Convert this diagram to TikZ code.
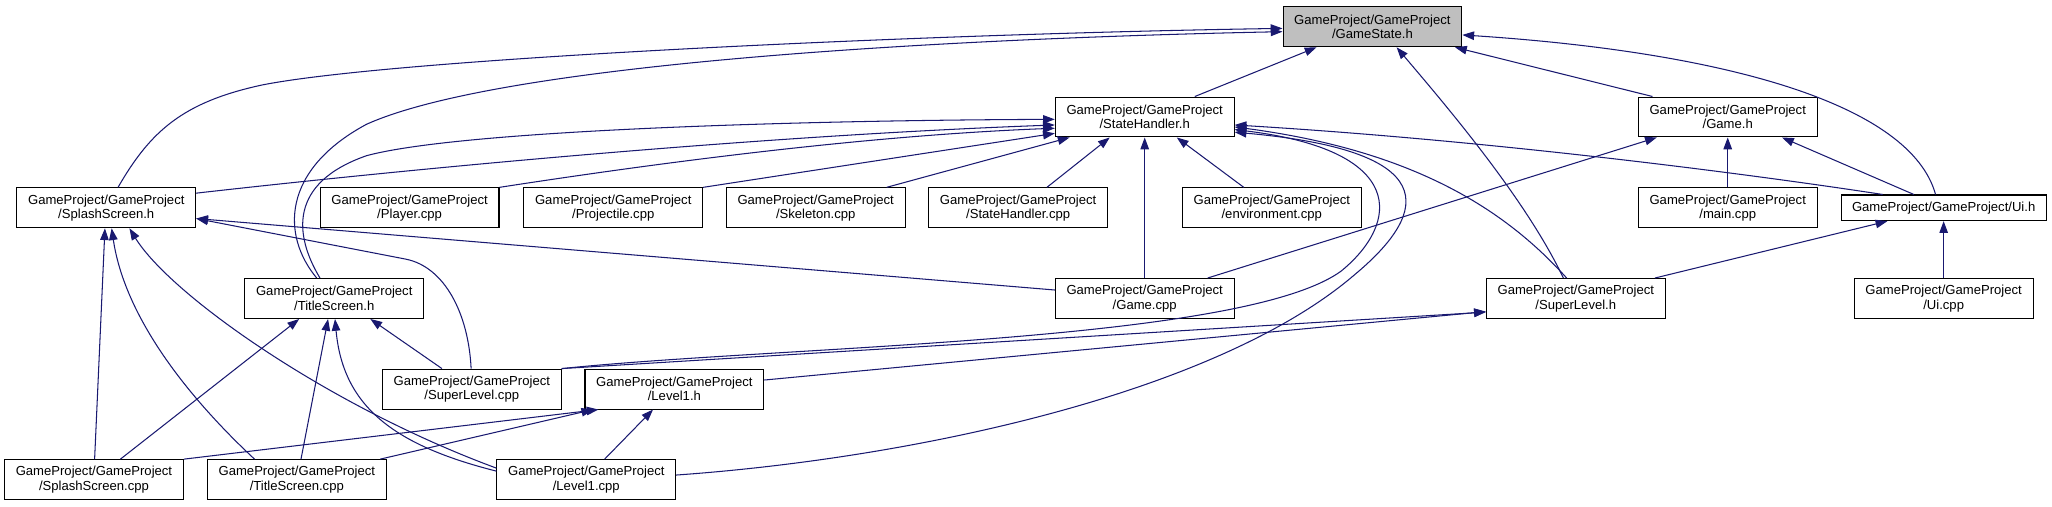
\documentclass[tikz,border=0pt]{standalone}
\usepackage{fontspec}
\setmainfont{Liberation Sans}
\usetikzlibrary{arrows.meta}
\definecolor{edgeblue}{HTML}{191970}
\definecolor{gsgrey}{HTML}{BFBFBF}
\begin{document}
\begin{tikzpicture}[x=1pt,y=-1pt,
  box/.style={draw=black, line width=0.8pt, fill=white, minimum width=136.6pt, minimum height=30.5pt, inner sep=0pt, align=center, font=\fontsize{10}{11}\selectfont},
  dep/.style={draw=edgeblue, line width=0.8pt, -{Triangle[length=9pt,width=6.5pt]}}]
\useasboundingbox (0,0) rectangle (1568,387);
% nodes
\node[box, fill=gsgrey] (gs) at (1048.7,20.5) {GameProject/GameProject\\/GameState.h};
\node[box] (sh) at (874.7,89.4) {GameProject/GameProject\\/StateHandler.h};
\node[box] (gh) at (1320.2,89.4) {GameProject/GameProject\\/Game.h};
\node[box] (ssh) at (81.2,158.8) {GameProject/GameProject\\/SplashScreen.h};
\node[box] (pl) at (313,158.8) {GameProject/GameProject\\/Player.cpp};
\node[box] (pr) at (468.6,158.8) {GameProject/GameProject\\/Projectile.cpp};
\node[box] (sk) at (623.3,158.8) {GameProject/GameProject\\/Skeleton.cpp};
\node[box] (shc) at (778,158.8) {GameProject/GameProject\\/StateHandler.cpp};
\node[box] (env) at (971.8,158.8) {GameProject/GameProject\\/environment.cpp};
\node[box] (mc) at (1320.2,158.8) {GameProject/GameProject\\/main.cpp};
\node[box, minimum width=156.7pt, minimum height=19.6pt] (uih) at (1485.2,158.8) {GameProject/GameProject/Ui.h};
\node[box] (tsh) at (255.4,228.1) {GameProject/GameProject\\/TitleScreen.h};
\node[box] (gc) at (874.7,228.1) {GameProject/GameProject\\/Game.cpp};
\node[box] (slh) at (1204.1,228.1) {GameProject/GameProject\\/SuperLevel.h};
\node[box] (uic) at (1485.2,228.1) {GameProject/GameProject\\/Ui.cpp};
\node[box] (slc) at (360.5,297.3) {GameProject/GameProject\\/SuperLevel.cpp};
\node[box] (l1h) at (515.3,297.3) {GameProject/GameProject\\/Level1.h};
\node[box] (ssc) at (71.8,366.5) {GameProject/GameProject\\/SplashScreen.cpp};
\node[box] (tsc) at (226.8,366.5) {GameProject/GameProject\\/TitleScreen.cpp};
\node[box] (l1c) at (448,366.5) {GameProject/GameProject\\/Level1.cpp};
% edges into GameState.h
\draw[dep] ([xshift=38.3pt]sh.north) -- ([xshift=-42.7pt]gs.south);
\draw[dep] ([xshift=-57.5pt]gh.north) -- ([xshift=63.1pt]gs.south);
\draw[dep] ([xshift=9pt]ssh.north) .. controls (115,100) and (140,78) .. (200,65) .. controls (300,45) and (700,26) .. ([yshift=-1.2pt]gs.west);
\draw[dep] ([xshift=-13.4pt]tsh.north) .. controls (215,180) and (215,130) .. (280,95) .. controls (380,50) and (700,30) .. ([yshift=-3.7pt]gs.west);
\draw[dep] ([xshift=-9.5pt]slh.north) .. controls (1165,150) and (1100,75) .. ([xshift=18.5pt]gs.south);
\draw[dep] ([xshift=-6.2pt]uih.north) .. controls (1460,80) and (1320,40) .. ([yshift=-6.2pt]gs.east);
% edges into StateHandler.h
\draw[dep] ([yshift=11.2pt]ssh.east) .. controls (350,125) and (600,103) .. ([yshift=-6.1pt]sh.west);
\draw[dep] ([xshift=-10.9pt]tsh.north) .. controls (225,180) and (220,140) .. (280,119) .. controls (350,100) and (600,92) .. ([yshift=-1.8pt]sh.west);
\draw[dep] (pl.north east) .. controls (480,128) and (650,104) .. ([yshift=-8.6pt]sh.west);
\draw[dep] (pr.north east) -- ([yshift=-12.5pt]sh.west);
\draw[dep] ([xshift=54.2pt]sk.north) -- ([xshift=-57.4pt]sh.south);
\draw[dep] ([xshift=22pt]shc.north) -- ([xshift=-26.7pt]sh.south);
\draw[dep] (gc.north) -- (sh.south);
\draw[dep] ([xshift=-21.4pt]env.north) -- ([xshift=24.5pt]sh.south);
\draw[dep] ([xshift=-46.6pt]uih.north) .. controls (1350,135) and (1150,108) .. ([yshift=-6.1pt]sh.east);
\draw[dep] ([xshift=-7pt]slh.north) .. controls (1150,160) and (1080,115) .. ([yshift=-7.6pt]sh.east);
\draw[dep] (slc.north east) .. controls (600,264) and (950,262) .. (1025,207) .. controls (1070,170) and (1075,115) .. ([yshift=-9.6pt]sh.east);
\draw[dep] ([yshift=3.5pt]l1c.east) .. controls (700,350) and (930,300) .. (1035,210) .. controls (1095,160) and (1100,115) .. ([yshift=-11.6pt]sh.east);
% edges into Game.h
\draw[dep] (mc.north) -- (gh.south);
\draw[dep] ([xshift=-22.8pt]uih.north) -- ([xshift=41.5pt]gh.south);
\draw[dep] ([xshift=48.1pt]gc.north) -- ([xshift=-54.2pt]gh.south);
% edges into Ui.h
\draw[dep] ([xshift=60.5pt]slh.north) -- ([xshift=-43pt]uih.south);
\draw[dep] (uic.north) -- (uih.south);
% edges into SplashScreen.h
\draw[dep] ([xshift=0.5pt]ssc.north) -- ([xshift=-1pt]ssh.south);
\draw[dep] ([xshift=-32.3pt]tsc.north) .. controls (140,300) and (95,240) .. ([xshift=4.1pt]ssh.south);
\draw[dep] ([yshift=8.8pt]l1c.west) .. controls (250,310) and (130,225) .. ([xshift=17.7pt]ssh.south);
\draw[dep] ([yshift=6.5pt]gc.west) -- ([yshift=-8.2pt]ssh.east);
\draw[dep] ([xshift=-0.5pt]slc.north) .. controls (358,240) and (340,204) .. (310,198) -- ([yshift=-8.2pt]ssh.east);
% edges into TitleScreen.h
\draw[dep] ([xshift=20.2pt]ssc.north) -- ([xshift=-26.8pt]tsh.south);
\draw[dep] ([xshift=3.2pt]tsc.north) -- ([xshift=-4.7pt]tsh.south);
\draw[dep] ([yshift=6.5pt]l1c.west) .. controls (300,340) and (262,310) .. ([xshift=0.6pt]tsh.south);
\draw[dep] ([xshift=-22.8pt]slc.north) -- ([xshift=27.6pt]tsh.south);
% edges into SuperLevel.h
\draw[dep] (slc.north east) -- ([yshift=-10.4pt]slh.west);
\draw[dep] ([yshift=6.9pt]l1h.east) -- ([yshift=-10pt]slh.west);
% edges into Level1.h
\draw[dep] (ssc.north east) -- ([xshift=-58pt]l1h.south);
\draw[dep] ([xshift=-5pt]tsc.north east) -- ([xshift=-62pt]l1h.south);
\draw[dep] ([xshift=14pt]l1c.north) -- ([xshift=-16.3pt]l1h.south);
\end{tikzpicture}
\end{document}
